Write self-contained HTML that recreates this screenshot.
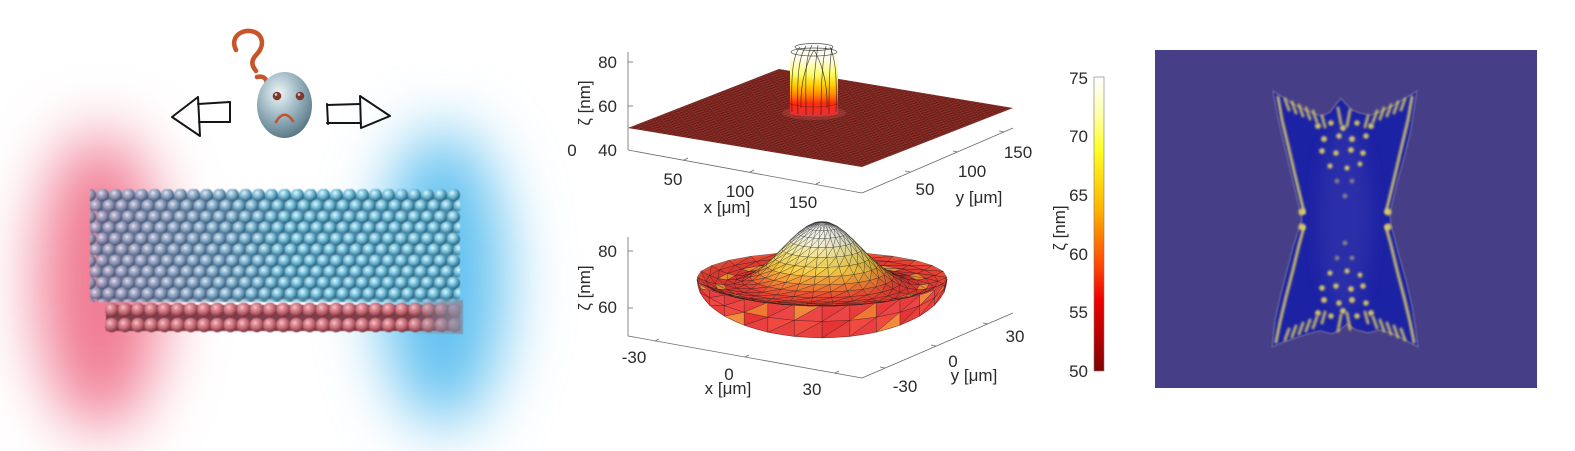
<!DOCTYPE html>
<html><head><meta charset="utf-8">
<style>
html,body{margin:0;padding:0;background:#fff;}
body{width:1575px;height:451px;overflow:hidden;}
svg{display:block;}
text{font-family:"Liberation Sans",Arial,sans-serif;fill:#2a2a2a;font-size:17px;}
</style></head><body>
<svg id="s" width="1575" height="451" viewBox="0 0 1575 451" xmlns="http://www.w3.org/2000/svg">
<defs>
 <filter id="glow" x="-150%" y="-100%" width="400%" height="300%"><feGaussianBlur stdDeviation="32"/></filter>
 <filter id="soft" x="-5%" y="-5%" width="110%" height="110%"><feGaussianBlur stdDeviation="0.5"/></filter>
 <filter id="b1" x="-50%" y="-50%" width="200%" height="200%"><feGaussianBlur stdDeviation="1.1"/></filter>
 <filter id="b06" x="-20%" y="-20%" width="140%" height="140%"><feGaussianBlur stdDeviation="0.7"/></filter>
 <filter id="b8" x="-80%" y="-80%" width="260%" height="260%"><feGaussianBlur stdDeviation="8"/></filter>

 <radialGradient id="gc" cx=".38" cy=".34" r=".66">
  <stop offset="0" stop-color="#e6f9ff"/><stop offset=".25" stop-color="#a2dbee"/>
  <stop offset=".6" stop-color="#5eabc8"/><stop offset=".9" stop-color="#36728c"/><stop offset="1" stop-color="#2b5a70"/>
 </radialGradient>
 <radialGradient id="gl" cx=".38" cy=".34" r=".66">
  <stop offset="0" stop-color="#efe9f4"/><stop offset=".25" stop-color="#b9b1cb"/>
  <stop offset=".6" stop-color="#8b89aa"/><stop offset=".9" stop-color="#5b6181"/><stop offset="1" stop-color="#4a5068"/>
 </radialGradient>
 <radialGradient id="gr" cx=".38" cy=".34" r=".66">
  <stop offset="0" stop-color="#f8ccd2"/><stop offset=".25" stop-color="#e2949e"/>
  <stop offset=".6" stop-color="#c26872"/><stop offset=".9" stop-color="#8e404c"/><stop offset="1" stop-color="#70323a"/>
 </radialGradient>
 <linearGradient id="blockbase" x1="96" y1="0" x2="458" y2="0" gradientUnits="userSpaceOnUse">
  <stop offset="0" stop-color="#6a6f8c"/><stop offset="1" stop-color="#4a88a4"/>
 </linearGradient>
 <linearGradient id="lm" x1="96" y1="0" x2="290" y2="0" gradientUnits="userSpaceOnUse">
  <stop offset="0" stop-color="#fff"/><stop offset=".4" stop-color="#aaa"/><stop offset="1" stop-color="#000"/>
 </linearGradient>
 <mask id="mL"><rect x="80" y="180" width="400" height="130" fill="url(#lm)"/></mask>
 <linearGradient id="redend" x1="410" y1="0" x2="462" y2="0" gradientUnits="userSpaceOnUse">
  <stop offset="0" stop-color="#8090a8" stop-opacity="0"/><stop offset="1" stop-color="#8090a8" stop-opacity=".85"/>
 </linearGradient>
 <pattern id="pc" width="13" height="22" patternUnits="userSpaceOnUse" x="96" y="189">
  <circle cx="6.5" cy="6" r="6.5" fill="url(#gc)"/>
  <circle cx="0" cy="17" r="6.5" fill="url(#gc)"/>
  <circle cx="13" cy="17" r="6.5" fill="url(#gc)"/>
 </pattern>
 <pattern id="pl" width="13" height="22" patternUnits="userSpaceOnUse" x="96" y="189">
  <circle cx="6.5" cy="6" r="6.5" fill="url(#gl)"/>
  <circle cx="0" cy="17" r="6.5" fill="url(#gl)"/>
  <circle cx="13" cy="17" r="6.5" fill="url(#gl)"/>
 </pattern>
 <pattern id="pr" width="13.2" height="15.5" patternUnits="userSpaceOnUse" x="105" y="302">
  <circle cx="6.6" cy="7.6" r="7.1" fill="url(#gr)"/>
 </pattern>
 <radialGradient id="hg" cx=".4" cy=".32" r=".72">
  <stop offset="0" stop-color="#eef4f6"/><stop offset=".35" stop-color="#b5cad3"/>
  <stop offset=".75" stop-color="#7896a4"/><stop offset="1" stop-color="#587482"/>
 </radialGradient>
 <pattern id="surf" width="1" height="1" patternUnits="userSpaceOnUse" patternTransform="matrix(4.875 0.8125 3.146 -1.229 628 128)">
  <rect width="1" height="1" fill="#882c25"/>
  <path d="M0,0H1M0,0V1" stroke="#3e100d" stroke-width="0.2" fill="none"/>
 </pattern>
 <linearGradient id="peak" x1="0" y1="44" x2="0" y2="114" gradientUnits="userSpaceOnUse">
  <stop offset="0" stop-color="#ffffff"/><stop offset=".22" stop-color="#fffbe6"/>
  <stop offset=".42" stop-color="#ffff70"/><stop offset=".58" stop-color="#ffd000"/>
  <stop offset=".72" stop-color="#ff8a00"/><stop offset=".85" stop-color="#ff2a10"/><stop offset="1" stop-color="#e83030"/>
 </linearGradient>
 <linearGradient id="dome" x1="0" y1="222" x2="0" y2="306" gradientUnits="userSpaceOnUse">
  <stop offset="0" stop-color="#ffffff"/><stop offset=".22" stop-color="#f4f2ee"/>
  <stop offset=".4" stop-color="#fff4c0"/><stop offset=".6" stop-color="#ffe878"/>
  <stop offset=".8" stop-color="#f8d040"/><stop offset="1" stop-color="#f0a030"/>
 </linearGradient>
 <linearGradient id="cb" x1="0" y1="0" x2="0" y2="1">
  <stop offset="0" stop-color="#ffffff"/><stop offset=".12" stop-color="#ffffb0"/>
  <stop offset=".25" stop-color="#ffff20"/><stop offset=".45" stop-color="#ffb400"/>
  <stop offset=".62" stop-color="#ff5200"/><stop offset=".76" stop-color="#ee0000"/>
  <stop offset=".9" stop-color="#b00000"/><stop offset="1" stop-color="#800000"/>
 </linearGradient>
</defs>

<rect width="1575" height="451" fill="#fff"/>

<!-- ===== Left illustration ===== -->
<ellipse cx="100" cy="282" rx="62" ry="148" fill="#f07890" filter="url(#glow)"/>
<ellipse cx="443" cy="278" rx="62" ry="148" fill="#5ec0f0" filter="url(#glow)"/>

<g filter="url(#soft)">
 <rect x="97" y="196" width="360" height="106" fill="url(#blockbase)"/>
 <rect x="90" y="189" width="370" height="113" fill="url(#pc)"/>
 <rect x="90" y="189" width="370" height="113" fill="url(#pl)" mask="url(#mL)"/>
 <rect x="106" y="305" width="354" height="26" fill="#7e3e4a"/>
 <rect x="105" y="302" width="356" height="31" fill="url(#pr)"/>
 <rect x="405" y="300" width="58" height="34" fill="url(#redend)"/>
</g>

<!-- question mark -->
<path d="M236,50 C230,38 240,30 250,31 C262,32 266,44 257,54 C250,61 252,66 256,71 M257,77 C266,75 270,83 263,89" fill="none" stroke="#c8552a" stroke-width="4.6" stroke-linecap="round" stroke-linejoin="round"/>
<!-- head -->
<ellipse cx="284.5" cy="105" rx="27.5" ry="33" fill="url(#hg)"/>
<circle cx="277" cy="96" r="4.3" fill="#7a3a2c"/><circle cx="276" cy="94.5" r="1.3" fill="#e8c8c0"/>
<circle cx="300" cy="96" r="4.3" fill="#7a3a2c"/><circle cx="299" cy="94.5" r="1.3" fill="#e8c8c0"/>
<path d="M276,122 Q284,108 293,121" fill="none" stroke="#c8502a" stroke-width="2.6" stroke-linecap="round"/>
<!-- arrows -->
<g fill="none" stroke="#151515" stroke-width="2" stroke-linejoin="round" stroke-linecap="round">
 <path d="M198,97 L172,117 L200,136 L198,97"/>
 <path d="M198,104 L230,102 L230,122 L199,122"/>
 <path d="M327,105 L360,104 M327,123 L361,123 M327,104 L328,124"/>
 <path d="M360,96 L390,116 L361,128 Z"/>
</g>

<!-- ===== Top 3D plot ===== -->
<g stroke="#6a6a6a" stroke-width="0.8" fill="none">
 <line x1="628" y1="52" x2="628" y2="150"/>
 <line x1="628" y1="150" x2="862" y2="193"/>
 <line x1="862" y1="193" x2="1013" y2="128"/>
 <line x1="628" y1="62" x2="633" y2="62"/><line x1="628" y1="106" x2="633" y2="106"/>
 <line x1="684" y1="160" x2="688" y2="158"/><line x1="750" y1="172" x2="754" y2="170"/><line x1="816" y1="184" x2="820" y2="182"/>
 <line x1="910" y1="172" x2="905" y2="171"/><line x1="958" y1="152" x2="953" y2="151"/><line x1="1004" y1="132" x2="999" y2="131"/>
</g>
<polygon points="628,128 862,167 1013,108 779,69" fill="url(#surf)"/>
<ellipse cx="814" cy="113" rx="32" ry="7" fill="#e86060" fill-opacity=".25"/>
<path d="M790,114 L790,60 C790,48 800,44 814,44 C828,44 838,48 838,60 L838,114 C830,117 798,117 790,114 Z" fill="url(#peak)"/>
<g fill="none" stroke="#1e1e1e" stroke-width="0.7" stroke-opacity=".8">
 <path d="M792,112 C791,80 792,56 800,47"/>
 <path d="M798,114 C797,80 798,58 806,46"/>
 <path d="M806,115 C806,80 804,60 812,45"/>
 <path d="M813,115 C813,80 816,60 818,45"/>
 <path d="M821,115 C821,80 823,58 826,46"/>
 <path d="M829,114 C829,80 830,58 832,48"/>
 <path d="M836,112 C837,80 836,60 830,47"/>
 <path d="M801,108 C800,80 808,60 814,50 C820,60 828,80 827,108"/>
 <ellipse cx="814" cy="47" rx="19" ry="3.5"/>
 <ellipse cx="814" cy="52" rx="23" ry="4"/>
 <path d="M790,104 Q814,110 838,104" stroke-opacity=".4"/>
</g>
<text x="617" y="68" text-anchor="end">80</text>
<text x="617" y="112" text-anchor="end">60</text>
<text x="617" y="156" text-anchor="end">40</text>
<text x="572" y="156" text-anchor="middle">0</text>
<text transform="translate(590,103) rotate(-90)" text-anchor="middle">ζ [nm]</text>
<text x="673" y="185" text-anchor="middle">50</text>
<text x="740" y="197" text-anchor="middle">100</text>
<text x="803" y="208" text-anchor="middle">150</text>
<text x="727" y="213" text-anchor="middle">x [μm]</text>
<text x="925" y="195" text-anchor="middle">50</text>
<text x="972" y="177" text-anchor="middle">100</text>
<text x="1018" y="158" text-anchor="middle">150</text>
<text x="979" y="203" text-anchor="middle">y [μm]</text>

<!-- ===== Bottom 3D plot ===== -->
<g stroke="#6a6a6a" stroke-width="0.8" fill="none">
 <line x1="628" y1="237" x2="628" y2="336"/>
 <line x1="628" y1="336" x2="862" y2="378"/>
 <line x1="862" y1="378" x2="1013" y2="313"/>
 <line x1="628" y1="251" x2="633" y2="251"/><line x1="628" y1="308" x2="633" y2="308"/>
 <line x1="655" y1="341" x2="659" y2="339"/><line x1="745" y1="357" x2="749" y2="355"/><line x1="835" y1="373" x2="839" y2="371"/>
 <line x1="885" y1="368" x2="880" y2="367"/><line x1="936" y1="346" x2="931" y2="345"/><line x1="988" y1="324" x2="983" y2="323"/>
</g>
<g>
 <path d="M697,280 A125,26 0 0 0 947,280 A125,58 0 0 1 697,280 Z" fill="#e83c3c"/>
 <ellipse cx="822" cy="279" rx="125" ry="26" fill="#ea4842"/>
 <ellipse cx="822" cy="284" rx="100" ry="18" fill="#b03a3a"/>
 <path d="M738,304 C752,300 766,292 776,270 C788,240 800,222 822,222 C844,222 856,240 868,268 C878,290 890,298 904,300 Q822,318 738,304 Z" fill="url(#dome)"/>
</g>
<g id="som"></g>
<text x="617" y="257" text-anchor="end">80</text>
<text x="617" y="313" text-anchor="end">60</text>
<text transform="translate(590,288) rotate(-90)" text-anchor="middle">ζ [nm]</text>
<text x="634" y="363" text-anchor="middle">-30</text>
<text x="729" y="380" text-anchor="middle">0</text>
<text x="812" y="395" text-anchor="middle">30</text>
<text x="728" y="394" text-anchor="middle">x [μm]</text>
<text x="905" y="392" text-anchor="middle">-30</text>
<text x="953" y="367" text-anchor="middle">0</text>
<text x="1015" y="342" text-anchor="middle">30</text>
<text x="974" y="381" text-anchor="middle">y [μm]</text>

<!-- ===== Colorbar ===== -->
<rect x="1094" y="77" width="10" height="294" fill="url(#cb)" stroke="#777" stroke-width="0.6"/>
<text x="1088" y="84" text-anchor="end">75</text>
<text x="1088" y="142" text-anchor="end">70</text>
<text x="1088" y="201" text-anchor="end">65</text>
<text x="1088" y="260" text-anchor="end">60</text>
<text x="1088" y="318" text-anchor="end">55</text>
<text x="1088" y="377" text-anchor="end">50</text>
<text transform="translate(1065,228) rotate(-90)" text-anchor="middle">ζ [nm]</text>

<!-- ===== Right panel ===== -->
<rect x="1155" y="50" width="382" height="338" fill="#463f88"/>
<g filter="url(#b06)">
<path d="M1273,91 L1283,97 L1293,104 L1303,109 L1313,113 L1322,116 L1330,112 L1336,104 L1341,98 L1346,104 L1352,110 L1360,113 L1370,115 L1380,112 L1392,106 L1404,99 L1417,91 L1414,110 L1411,130 L1405,155 L1398,180 L1392,205 L1390,213 L1391,225 L1393,232 L1399,255 L1406,280 L1412,305 L1416,330 L1418,347 L1405,340 L1393,334 L1380,330 L1368,333 L1356,330 L1347,324 L1340,330 L1332,334 L1320,331 L1308,334 L1296,338 L1284,342 L1272,347 L1275,320 L1280,297 L1287,270 L1293,247 L1299,228 L1302,220 L1300,212 L1296,195 L1290,170 L1283,140 L1277,115 Z" fill="#1d20a4" stroke="#7a7698" stroke-width="0.8"/>
</g>
<ellipse cx="1345" cy="219" rx="26" ry="95" fill="#3c3cae" opacity=".45" filter="url(#b8)"/>
<g filter="url(#b1)" fill="none" stroke="#d6c868" stroke-width="3" stroke-opacity=".9" stroke-linecap="round">
 <path d="M1278,97 L1282,120 L1288,145 L1295,175 L1301,200 L1304,212"/>
 <path d="M1304,227 L1299,245 L1293,270 L1286,297 L1280,322 L1276,342"/>
 <path d="M1412,97 L1408,120 L1402,145 L1395,175 L1389,200 L1386,212"/>
 <path d="M1386,227 L1391,245 L1397,270 L1404,297 L1410,322 L1414,342"/>
</g>
<g filter="url(#b1)" stroke="#dccc60" stroke-width="3" stroke-opacity=".8" stroke-linecap="round">
 <line x1="1285" y1="99" x2="1289" y2="110"/><line x1="1292" y1="102" x2="1296" y2="113"/><line x1="1299" y1="105" x2="1303" y2="116"/>
 <line x1="1306" y1="108" x2="1310" y2="119"/><line x1="1313" y1="111" x2="1317" y2="122"/><line x1="1322" y1="116" x2="1325" y2="127"/>
 <line x1="1405" y1="99" x2="1401" y2="110"/><line x1="1398" y1="102" x2="1394" y2="113"/><line x1="1391" y1="105" x2="1387" y2="116"/>
 <line x1="1384" y1="108" x2="1380" y2="119"/><line x1="1377" y1="111" x2="1373" y2="122"/><line x1="1368" y1="116" x2="1365" y2="127"/>
 <line x1="1285" y1="340" x2="1289" y2="329"/><line x1="1292" y1="337" x2="1296" y2="326"/><line x1="1299" y1="334" x2="1303" y2="323"/>
 <line x1="1306" y1="331" x2="1310" y2="320"/><line x1="1313" y1="328" x2="1317" y2="317"/><line x1="1322" y1="323" x2="1325" y2="312"/>
 <line x1="1405" y1="340" x2="1401" y2="329"/><line x1="1398" y1="337" x2="1394" y2="326"/><line x1="1391" y1="334" x2="1387" y2="323"/>
 <line x1="1384" y1="331" x2="1380" y2="320"/><line x1="1377" y1="328" x2="1373" y2="317"/><line x1="1368" y1="323" x2="1365" y2="312"/>
 <line x1="1338" y1="108" x2="1341" y2="124"/><line x1="1350" y1="110" x2="1347" y2="126"/>
 <line x1="1338" y1="331" x2="1341" y2="315"/><line x1="1350" y1="329" x2="1347" y2="313"/>
</g>
<g filter="url(#b1)" fill="#e0d064" fill-opacity=".9">
 <circle cx="1302" cy="212" r="3.6"/><circle cx="1302" cy="227" r="3.6"/>
 <circle cx="1388" cy="212" r="3.6"/><circle cx="1388" cy="227" r="3.6"/>
 <circle cx="1318" cy="126" r="3"/><circle cx="1331" cy="123" r="2.8"/><circle cx="1343" cy="128" r="3"/><circle cx="1357" cy="123" r="2.8"/><circle cx="1371" cy="126" r="3"/>
 <circle cx="1324" cy="139" r="3"/><circle cx="1339" cy="136" r="2.8"/><circle cx="1352" cy="139" r="3"/><circle cx="1366" cy="136" r="2.8"/>
 <circle cx="1322" cy="151" r="2.9"/><circle cx="1336" cy="153" r="2.8"/><circle cx="1351" cy="150" r="2.9"/><circle cx="1363" cy="153" r="2.8"/>
 <circle cx="1330" cy="166" r="2.6"/><circle cx="1347" cy="168" r="2.6"/><circle cx="1360" cy="164" r="2.5"/>
 <circle cx="1337" cy="181" r="2.4" fill-opacity=".5"/><circle cx="1352" cy="181" r="2.4" fill-opacity=".5"/><circle cx="1345" cy="196" r="2.5" fill-opacity=".5"/>
 <circle cx="1318" cy="313" r="3"/><circle cx="1331" cy="316" r="2.8"/><circle cx="1343" cy="311" r="3"/><circle cx="1357" cy="316" r="2.8"/><circle cx="1371" cy="313" r="3"/>
 <circle cx="1324" cy="300" r="3"/><circle cx="1339" cy="303" r="2.8"/><circle cx="1352" cy="300" r="3"/><circle cx="1366" cy="303" r="2.8"/>
 <circle cx="1322" cy="288" r="2.9"/><circle cx="1336" cy="286" r="2.8"/><circle cx="1351" cy="289" r="2.9"/><circle cx="1363" cy="286" r="2.8"/>
 <circle cx="1330" cy="273" r="2.6"/><circle cx="1347" cy="271" r="2.6"/><circle cx="1360" cy="275" r="2.5"/>
 <circle cx="1337" cy="258" r="2.4" fill-opacity=".5"/><circle cx="1352" cy="258" r="2.4" fill-opacity=".5"/><circle cx="1345" cy="243" r="2.5" fill-opacity=".5"/>
</g>
</svg>

<script>
(function(){
var NS='http://www.w3.org/2000/svg';
var g=document.getElementById('som');
function tri(pts,fill,op){
 var e=document.createElementNS(NS,'polygon');
 e.setAttribute('points',pts.map(function(p){return p[0].toFixed(1)+','+p[1].toFixed(1);}).join(' '));
 e.setAttribute('fill',fill);e.setAttribute('fill-opacity',op);
 e.setAttribute('stroke','#1a1a1a');e.setAttribute('stroke-opacity','0.55');
 e.setAttribute('stroke-width','0.5');e.setAttribute('stroke-linejoin','round');
 g.appendChild(e);
}
var CX=822,M=14,j,i;
// outer bowl face: rim front arc -> bottom ellipse arc
for(j=0;j<M;j++){
 var a0=Math.PI*j/M,a1=Math.PI*(j+1)/M;
 var t0=[CX+125*Math.cos(a0),279+26*Math.sin(a0)],t1=[CX+125*Math.cos(a1),279+26*Math.sin(a1)];
 var b0=[CX+125*Math.cos(a0),280+58*Math.sin(a0)],b1=[CX+125*Math.cos(a1),280+58*Math.sin(a1)];
 var m0=[(t0[0]+b0[0])/2,(t0[1]+b0[1])/2],m1=[(t1[0]+b1[0])/2,(t1[1]+b1[1])/2];
 var c1=(j%5==2)?'#f08a3a':'#e83c3c',c2=(j%4==1)?'#f07a34':'#ec4646',c3=(j%3==0)?'#e63434':'#f04a40',c4=(j%6==4)?'#f0903c':'#e84040';
 tri([t0,t1,m1],c1,0.96);tri([t0,m1,m0],c2,0.96);
 tri([m0,m1,b1],c3,0.96);tri([m0,b1,b0],c4,0.96);
}
var R=[0,0.1,0.2,0.3,0.4,0.5,0.6,0.7,0.8,0.9,1.0,1.1,1.22,1.34,1.45,1.56];
var N=26;
function H(r){return 68*Math.exp(-(r/0.7)*(r/0.7))+(r>1?12*Math.pow((r-1)/0.56,2):0);}
function P(r,a){var h=H(r),yg=290+r*80*0.208*Math.sin(a);
 return {x:CX+r*80*Math.cos(a),yg:yg,y:yg-h,h:h,X:r*Math.cos(a),Y:r*Math.sin(a),Z:h/80,r:r};}
var stops=[[0,[226,46,46]],[0.14,[232,62,52]],[0.28,[242,140,52]],[0.45,[248,215,72]],[0.62,[252,240,152]],[0.8,[248,246,234]],[1,[255,255,255]]];
function col(t,sh){
 if(t<0)t=0;if(t>1)t=1;
 var k=0;while(k<stops.length-2&&t>stops[k+1][0])k++;
 var a=stops[k],b=stops[k+1],f=(t-a[0])/(b[0]-a[0]);
 var c=[0,1,2].map(function(q){return Math.round(Math.min(255,(a[1][q]+(b[1][q]-a[1][q])*f)*sh));});
 return 'rgb('+c[0]+','+c[1]+','+c[2]+')';
}
var L=[-0.35,0.45,0.82],ln=Math.sqrt(L[0]*L[0]+L[1]*L[1]+L[2]*L[2]);L=L.map(function(v){return v/ln;});
var T=[];
for(i=0;i<R.length-1;i++){
 for(j=0;j<N;j++){
  var q0=2*Math.PI*j/N,q1=2*Math.PI*(j+1)/N;
  var p00=P(R[i],q0),p10=P(R[i+1],q0),p11=P(R[i+1],q1),p01=P(R[i],q1);
  T.push({p:[p00,p10,p11],i:i,j:j});
  if(R[i]>0)T.push({p:[p00,p11,p01],i:i,j:j+100});
 }
}
T.forEach(function(t){
 var a=t.p[0],b=t.p[1],c=t.p[2];
 t.d=(a.yg+b.yg+c.yg)/3;
 var u=[b.X-a.X,b.Y-a.Y,b.Z-a.Z],v=[c.X-a.X,c.Y-a.Y,c.Z-a.Z];
 var n=[u[1]*v[2]-u[2]*v[1],u[2]*v[0]-u[0]*v[2],u[0]*v[1]-u[1]*v[0]];
 var nl=Math.sqrt(n[0]*n[0]+n[1]*n[1]+n[2]*n[2])||1;
 n=n.map(function(x){return x/nl;});if(n[2]<0)n=n.map(function(x){return -x;});
 var dl=n[0]*L[0]+n[1]*L[1]+n[2]*L[2];
 t.sh=0.74+0.26*Math.max(0,dl);
 t.h=(a.h+b.h+c.h)/3;t.r=(a.r+b.r+c.r)/3;
});
T.sort(function(a,b){return a.d-b.d;});
T.forEach(function(t){
 var fill;
 if(t.r>1.05&&((t.i*7+t.j*3)%6==0))fill=col(0.3,t.sh);
 else fill=col(t.h/68,t.sh);
 tri(t.p.map(function(p){return [p.x,p.y];}),fill,0.93);
});
})();
</script>
</body></html>
